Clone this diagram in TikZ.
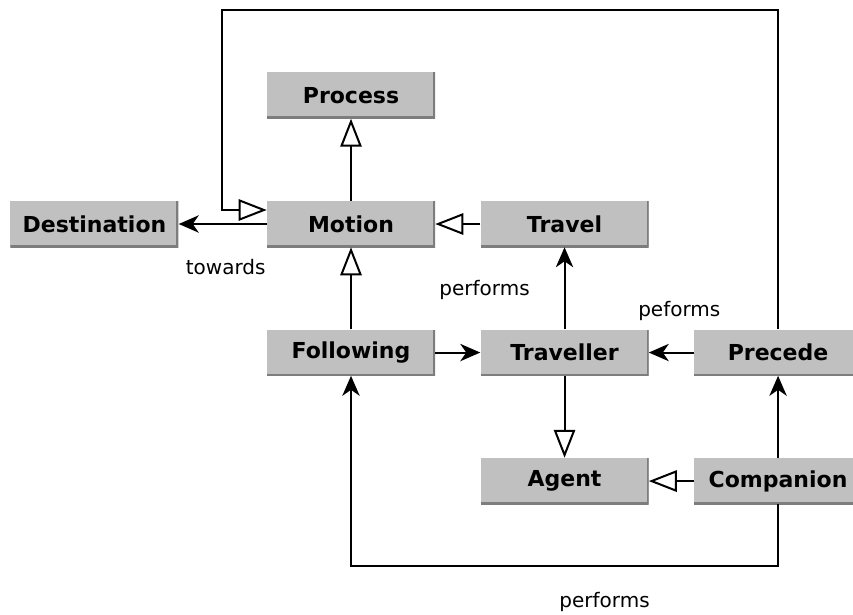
\documentclass[tikz,border=0pt]{standalone}
\usepackage{fontspec}
\setmainfont{DejaVu Sans}
\usepackage{tikz}
\usetikzlibrary{positioning,arrows.meta,calc}
\definecolor{boxgray}{RGB}{192,192,192}
\definecolor{edgegray}{RGB}{125,125,125}
\tikzset{
  concept-node/.style={fill=boxgray, minimum width=126pt, minimum height=34.5pt,
    inner sep=0pt, font=\fontsize{16.5}{19}\selectfont\bfseries,
    path picture={\draw[edgegray, line width=3pt]
      (path picture bounding box.north east) -- (path picture bounding box.south east)
      -- (path picture bounding box.south west);}},
  isa-arrow/.style={-{Triangle[open, length=21pt, width=16pt]}, line width=1.5pt},
  rel-arrow/.style={-{Stealth[length=15pt, width=13pt, inset=4.5pt]}, line width=1.5pt},
  rel-label/.style={font=\fontsize{15}{18}\selectfont}
}
\begin{document}
\begin{tikzpicture}[x=0.75pt, y=0.75pt, node distance=61.5pt and 33.75pt]
\useasboundingbox (0,0) rectangle (853,-614);

% Middle row
\node[concept-node] (motion) at (351,-224) {Motion};
\node[concept-node, above=of motion] (process) {Process};
\node[concept-node, left=66pt of motion] (destination) {Destination};
\node[concept-node, right=of motion] (travel) {Travel};

% Lower rows
\node[concept-node, below=of motion] (following) {Following};
\node[concept-node, right=of following] (traveller) {Traveller};
\node[concept-node, right=of traveller] (precede) {Precede};
\node[concept-node, below=of traveller] (agent) {Agent};
\node[concept-node, right=of agent] (companion) {Companion};

% Rails for the long connectors
\coordinate (top-rail) at (222,-10);
\coordinate (low-rail) at (0,-566);

% Generalisations
\draw[isa-arrow] (motion) -- (process);
\draw[isa-arrow] (following) -- (motion);
\draw[isa-arrow] (travel) -- (motion);
\draw[isa-arrow] (traveller) -- (agent);
\draw[isa-arrow] (companion) -- (agent);
\draw[isa-arrow] (precede.north) |- (top-rail) |- ([yshift=10.5pt]motion.west);

% Relations
\draw[rel-arrow] (motion) -- (destination);
\draw[rel-arrow] (traveller) -- (travel);
\draw[rel-arrow] (following) -- (traveller);
\draw[rel-arrow] (precede) -- (traveller);
\draw[rel-arrow] (companion) -- (precede);
\draw[rel-arrow] (companion.south) -- (companion.south |- low-rail) -| (following.south);

% Relation labels
\node[rel-label] (towards-lbl) at ($(motion.west)!0.5!(destination.east) + (3,-43)$) {towards};
\node[rel-label] (performs-lbl) at ($(traveller.north)!0.5!(travel.south) + (-80,-2)$) {performs};
\node[rel-label] (peforms-lbl) at ($(traveller.north east)!0.5!(precede.north west) + (8,18)$) {peforms};
\node[rel-label] (performs-low-lbl) at ($(companion.south |- low-rail)!0.5!(following.south |- low-rail) + (40,-36)$) {performs};
\end{tikzpicture}
\end{document}
